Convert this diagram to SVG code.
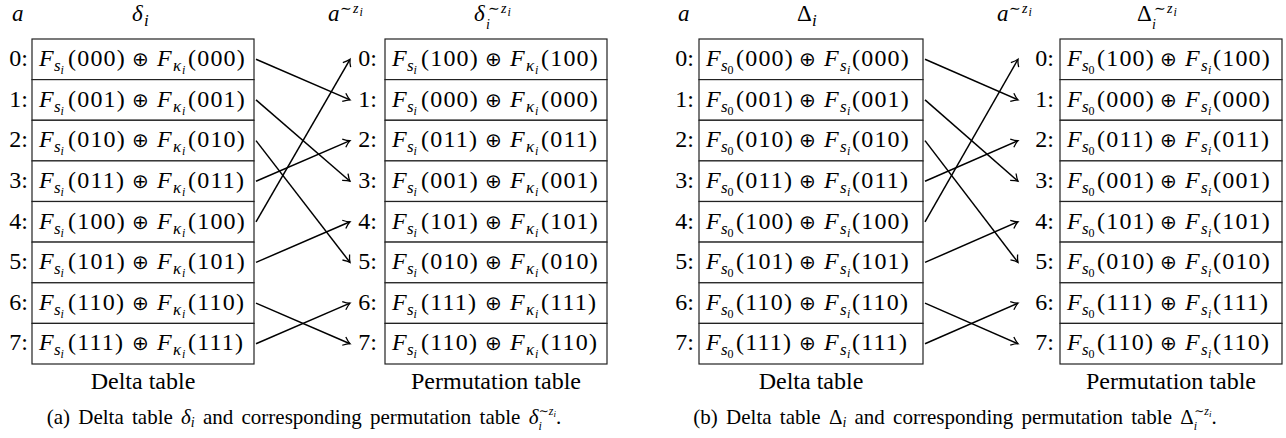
<svg xmlns="http://www.w3.org/2000/svg" width="1286" height="438" viewBox="0 0 1286 438">
<style>
text{font-family:"Liberation Serif","Times New Roman","DejaVu Serif",serif;fill:#000}
.it{font-style:italic}
.c{font-size:24px}
.sb{font-size:17px}
.ss{font-size:12px}
.sp{font-size:14px}
.op{font-family:"DejaVu Sans",sans-serif;font-size:20px}
.ls{letter-spacing:1.2px}
.lab{font-size:24px;text-anchor:end}
.hd{font-size:23px}
.ft{font-size:24px;text-anchor:middle}
.cap{font-size:21px;text-anchor:middle;word-spacing:3px}
.row{fill:#fff;stroke:#222;stroke-width:1.2}
.arr{stroke:#000;stroke-width:1.5;fill:none;marker-end:url(#ah)}
</style>
<defs>
<marker id="ah" markerUnits="userSpaceOnUse" markerWidth="10" markerHeight="12" viewBox="-8 -6 10 12" refX="0" refY="0" orient="auto">
<path d="M-6.5,-4.5 Q-2.5,-1 0,0 Q-2.5,1 -6.5,4.5" fill="none" stroke="#000" stroke-width="1.3"/>
</marker>
</defs>

<!-- Headers -->
<g id="headers">
<text class="hd it" x="12" y="21">a</text>
<text class="hd" x="132" y="21"><tspan class="it">δ</tspan><tspan class="it sb" x="144" y="26">i</tspan></text>
<text class="hd" x="328" y="21"><tspan class="it">a</tspan><tspan class="sp" x="340" y="13">∼</tspan><tspan class="it sp" x="353" y="13">z</tspan><tspan class="it ss" x="359.5" y="16">i</tspan></text>
<text class="hd" x="474" y="21"><tspan class="it">δ</tspan><tspan class="it sp" x="486" y="29">i</tspan><tspan class="sp" x="488" y="13">∼</tspan><tspan class="it sp" x="501" y="13">z</tspan><tspan class="it ss" x="507.5" y="16">i</tspan></text>
<text class="hd it" x="678" y="21">a</text>
<text class="hd" x="797" y="21"><tspan>Δ</tspan><tspan class="it sb" x="812" y="26">i</tspan></text>
<text class="hd" x="997" y="21"><tspan class="it">a</tspan><tspan class="sp" x="1009" y="13">∼</tspan><tspan class="it sp" x="1022" y="13">z</tspan><tspan class="it ss" x="1028.5" y="16">i</tspan></text>
<text class="hd" x="1137" y="21"><tspan>Δ</tspan><tspan class="it sp" x="1152" y="29">i</tspan><tspan class="sp" x="1154" y="13">∼</tspan><tspan class="it sp" x="1167" y="13">z</tspan><tspan class="it ss" x="1173.5" y="16">i</tspan></text>
</g>

<!-- (a) Delta table -->
<g id="a-delta">
<rect class="row" x="32" y="39" width="222" height="40.6"/>
<rect class="row" x="32" y="79.6" width="222" height="40.6"/>
<rect class="row" x="32" y="120.3" width="222" height="40.6"/>
<rect class="row" x="32" y="160.9" width="222" height="40.6"/>
<rect class="row" x="32" y="201.5" width="222" height="40.6"/>
<rect class="row" x="32" y="242.1" width="222" height="40.6"/>
<rect class="row" x="32" y="282.8" width="222" height="40.6"/>
<rect class="row" x="32" y="323.4" width="222" height="40.6"/>
<text class="lab" x="28" y="66">0:</text>
<text class="lab" x="28" y="106.6">1:</text>
<text class="lab" x="28" y="147.3">2:</text>
<text class="lab" x="28" y="187.9">3:</text>
<text class="lab" x="28" y="228.5">4:</text>
<text class="lab" x="28" y="269.1">5:</text>
<text class="lab" x="28" y="309.8">6:</text>
<text class="lab" x="28" y="350.4">7:</text>
<text class="c" x="39" y="66"><tspan class="it">F</tspan><tspan class="it sb" x="54" y="71">s</tspan><tspan class="it ss" x="60.5" y="74">i</tspan><tspan class="ls" x="68" y="66">(000)</tspan><tspan class="op" x="132">⊕</tspan><tspan class="it" x="157">F</tspan><tspan class="it sb" x="173" y="71">κ</tspan><tspan class="it ss" x="182" y="74">i</tspan><tspan class="ls" x="188" y="66">(000)</tspan></text>
<text class="c" x="39" y="106.6"><tspan class="it">F</tspan><tspan class="it sb" x="54" y="111.6">s</tspan><tspan class="it ss" x="60.5" y="114.6">i</tspan><tspan class="ls" x="68" y="106.6">(001)</tspan><tspan class="op" x="132">⊕</tspan><tspan class="it" x="157">F</tspan><tspan class="it sb" x="173" y="111.6">κ</tspan><tspan class="it ss" x="182" y="114.6">i</tspan><tspan class="ls" x="188" y="106.6">(001)</tspan></text>
<text class="c" x="39" y="147.3"><tspan class="it">F</tspan><tspan class="it sb" x="54" y="152.3">s</tspan><tspan class="it ss" x="60.5" y="155.3">i</tspan><tspan class="ls" x="68" y="147.3">(010)</tspan><tspan class="op" x="132">⊕</tspan><tspan class="it" x="157">F</tspan><tspan class="it sb" x="173" y="152.3">κ</tspan><tspan class="it ss" x="182" y="155.3">i</tspan><tspan class="ls" x="188" y="147.3">(010)</tspan></text>
<text class="c" x="39" y="187.9"><tspan class="it">F</tspan><tspan class="it sb" x="54" y="192.9">s</tspan><tspan class="it ss" x="60.5" y="195.9">i</tspan><tspan class="ls" x="68" y="187.9">(011)</tspan><tspan class="op" x="132">⊕</tspan><tspan class="it" x="157">F</tspan><tspan class="it sb" x="173" y="192.9">κ</tspan><tspan class="it ss" x="182" y="195.9">i</tspan><tspan class="ls" x="188" y="187.9">(011)</tspan></text>
<text class="c" x="39" y="228.5"><tspan class="it">F</tspan><tspan class="it sb" x="54" y="233.5">s</tspan><tspan class="it ss" x="60.5" y="236.5">i</tspan><tspan class="ls" x="68" y="228.5">(100)</tspan><tspan class="op" x="132">⊕</tspan><tspan class="it" x="157">F</tspan><tspan class="it sb" x="173" y="233.5">κ</tspan><tspan class="it ss" x="182" y="236.5">i</tspan><tspan class="ls" x="188" y="228.5">(100)</tspan></text>
<text class="c" x="39" y="269.1"><tspan class="it">F</tspan><tspan class="it sb" x="54" y="274.1">s</tspan><tspan class="it ss" x="60.5" y="277.1">i</tspan><tspan class="ls" x="68" y="269.1">(101)</tspan><tspan class="op" x="132">⊕</tspan><tspan class="it" x="157">F</tspan><tspan class="it sb" x="173" y="274.1">κ</tspan><tspan class="it ss" x="182" y="277.1">i</tspan><tspan class="ls" x="188" y="269.1">(101)</tspan></text>
<text class="c" x="39" y="309.8"><tspan class="it">F</tspan><tspan class="it sb" x="54" y="314.8">s</tspan><tspan class="it ss" x="60.5" y="317.8">i</tspan><tspan class="ls" x="68" y="309.8">(110)</tspan><tspan class="op" x="132">⊕</tspan><tspan class="it" x="157">F</tspan><tspan class="it sb" x="173" y="314.8">κ</tspan><tspan class="it ss" x="182" y="317.8">i</tspan><tspan class="ls" x="188" y="309.8">(110)</tspan></text>
<text class="c" x="39" y="350.4"><tspan class="it">F</tspan><tspan class="it sb" x="54" y="355.4">s</tspan><tspan class="it ss" x="60.5" y="358.4">i</tspan><tspan class="ls" x="68" y="350.4">(111)</tspan><tspan class="op" x="132">⊕</tspan><tspan class="it" x="157">F</tspan><tspan class="it sb" x="173" y="355.4">κ</tspan><tspan class="it ss" x="182" y="358.4">i</tspan><tspan class="ls" x="188" y="350.4">(111)</tspan></text>
<text class="ft" x="143" y="389">Delta table</text>
</g>

<!-- (a) Permutation table -->
<g id="a-perm">
<rect class="row" x="385" y="39" width="222" height="40.6"/>
<rect class="row" x="385" y="79.6" width="222" height="40.6"/>
<rect class="row" x="385" y="120.3" width="222" height="40.6"/>
<rect class="row" x="385" y="160.9" width="222" height="40.6"/>
<rect class="row" x="385" y="201.5" width="222" height="40.6"/>
<rect class="row" x="385" y="242.1" width="222" height="40.6"/>
<rect class="row" x="385" y="282.8" width="222" height="40.6"/>
<rect class="row" x="385" y="323.4" width="222" height="40.6"/>
<text class="lab" x="377" y="66">0:</text>
<text class="lab" x="377" y="106.6">1:</text>
<text class="lab" x="377" y="147.3">2:</text>
<text class="lab" x="377" y="187.9">3:</text>
<text class="lab" x="377" y="228.5">4:</text>
<text class="lab" x="377" y="269.1">5:</text>
<text class="lab" x="377" y="309.8">6:</text>
<text class="lab" x="377" y="350.4">7:</text>
<text class="c" x="392" y="66"><tspan class="it">F</tspan><tspan class="it sb" x="407" y="71">s</tspan><tspan class="it ss" x="413.5" y="74">i</tspan><tspan class="ls" x="421" y="66">(100)</tspan><tspan class="op" x="485">⊕</tspan><tspan class="it" x="510">F</tspan><tspan class="it sb" x="526" y="71">κ</tspan><tspan class="it ss" x="535" y="74">i</tspan><tspan class="ls" x="541" y="66">(100)</tspan></text>
<text class="c" x="392" y="106.6"><tspan class="it">F</tspan><tspan class="it sb" x="407" y="111.6">s</tspan><tspan class="it ss" x="413.5" y="114.6">i</tspan><tspan class="ls" x="421" y="106.6">(000)</tspan><tspan class="op" x="485">⊕</tspan><tspan class="it" x="510">F</tspan><tspan class="it sb" x="526" y="111.6">κ</tspan><tspan class="it ss" x="535" y="114.6">i</tspan><tspan class="ls" x="541" y="106.6">(000)</tspan></text>
<text class="c" x="392" y="147.3"><tspan class="it">F</tspan><tspan class="it sb" x="407" y="152.3">s</tspan><tspan class="it ss" x="413.5" y="155.3">i</tspan><tspan class="ls" x="421" y="147.3">(011)</tspan><tspan class="op" x="485">⊕</tspan><tspan class="it" x="510">F</tspan><tspan class="it sb" x="526" y="152.3">κ</tspan><tspan class="it ss" x="535" y="155.3">i</tspan><tspan class="ls" x="541" y="147.3">(011)</tspan></text>
<text class="c" x="392" y="187.9"><tspan class="it">F</tspan><tspan class="it sb" x="407" y="192.9">s</tspan><tspan class="it ss" x="413.5" y="195.9">i</tspan><tspan class="ls" x="421" y="187.9">(001)</tspan><tspan class="op" x="485">⊕</tspan><tspan class="it" x="510">F</tspan><tspan class="it sb" x="526" y="192.9">κ</tspan><tspan class="it ss" x="535" y="195.9">i</tspan><tspan class="ls" x="541" y="187.9">(001)</tspan></text>
<text class="c" x="392" y="228.5"><tspan class="it">F</tspan><tspan class="it sb" x="407" y="233.5">s</tspan><tspan class="it ss" x="413.5" y="236.5">i</tspan><tspan class="ls" x="421" y="228.5">(101)</tspan><tspan class="op" x="485">⊕</tspan><tspan class="it" x="510">F</tspan><tspan class="it sb" x="526" y="233.5">κ</tspan><tspan class="it ss" x="535" y="236.5">i</tspan><tspan class="ls" x="541" y="228.5">(101)</tspan></text>
<text class="c" x="392" y="269.1"><tspan class="it">F</tspan><tspan class="it sb" x="407" y="274.1">s</tspan><tspan class="it ss" x="413.5" y="277.1">i</tspan><tspan class="ls" x="421" y="269.1">(010)</tspan><tspan class="op" x="485">⊕</tspan><tspan class="it" x="510">F</tspan><tspan class="it sb" x="526" y="274.1">κ</tspan><tspan class="it ss" x="535" y="277.1">i</tspan><tspan class="ls" x="541" y="269.1">(010)</tspan></text>
<text class="c" x="392" y="309.8"><tspan class="it">F</tspan><tspan class="it sb" x="407" y="314.8">s</tspan><tspan class="it ss" x="413.5" y="317.8">i</tspan><tspan class="ls" x="421" y="309.8">(111)</tspan><tspan class="op" x="485">⊕</tspan><tspan class="it" x="510">F</tspan><tspan class="it sb" x="526" y="314.8">κ</tspan><tspan class="it ss" x="535" y="317.8">i</tspan><tspan class="ls" x="541" y="309.8">(111)</tspan></text>
<text class="c" x="392" y="350.4"><tspan class="it">F</tspan><tspan class="it sb" x="407" y="355.4">s</tspan><tspan class="it ss" x="413.5" y="358.4">i</tspan><tspan class="ls" x="421" y="350.4">(110)</tspan><tspan class="op" x="485">⊕</tspan><tspan class="it" x="510">F</tspan><tspan class="it sb" x="526" y="355.4">κ</tspan><tspan class="it ss" x="535" y="358.4">i</tspan><tspan class="ls" x="541" y="350.4">(110)</tspan></text>
<text class="ft" x="496" y="389">Permutation table</text>
</g>

<!-- (b) Delta table -->
<g id="b-delta">
<rect class="row" x="699" y="39" width="224" height="40.6"/>
<rect class="row" x="699" y="79.6" width="224" height="40.6"/>
<rect class="row" x="699" y="120.3" width="224" height="40.6"/>
<rect class="row" x="699" y="160.9" width="224" height="40.6"/>
<rect class="row" x="699" y="201.5" width="224" height="40.6"/>
<rect class="row" x="699" y="242.1" width="224" height="40.6"/>
<rect class="row" x="699" y="282.8" width="224" height="40.6"/>
<rect class="row" x="699" y="323.4" width="224" height="40.6"/>
<text class="lab" x="694" y="66">0:</text>
<text class="lab" x="694" y="106.6">1:</text>
<text class="lab" x="694" y="147.3">2:</text>
<text class="lab" x="694" y="187.9">3:</text>
<text class="lab" x="694" y="228.5">4:</text>
<text class="lab" x="694" y="269.1">5:</text>
<text class="lab" x="694" y="309.8">6:</text>
<text class="lab" x="694" y="350.4">7:</text>
<text class="c" x="706" y="66"><tspan class="it">F</tspan><tspan class="it sb" x="721" y="71">s</tspan><tspan class="ss" x="727.5" y="74">0</tspan><tspan class="ls" x="736" y="66">(000)</tspan><tspan class="op" x="799">⊕</tspan><tspan class="it" x="824">F</tspan><tspan class="it sb" x="840" y="71">s</tspan><tspan class="it ss" x="847" y="74">i</tspan><tspan class="ls" x="852" y="66">(000)</tspan></text>
<text class="c" x="706" y="106.6"><tspan class="it">F</tspan><tspan class="it sb" x="721" y="111.6">s</tspan><tspan class="ss" x="727.5" y="114.6">0</tspan><tspan class="ls" x="736" y="106.6">(001)</tspan><tspan class="op" x="799">⊕</tspan><tspan class="it" x="824">F</tspan><tspan class="it sb" x="840" y="111.6">s</tspan><tspan class="it ss" x="847" y="114.6">i</tspan><tspan class="ls" x="852" y="106.6">(001)</tspan></text>
<text class="c" x="706" y="147.3"><tspan class="it">F</tspan><tspan class="it sb" x="721" y="152.3">s</tspan><tspan class="ss" x="727.5" y="155.3">0</tspan><tspan class="ls" x="736" y="147.3">(010)</tspan><tspan class="op" x="799">⊕</tspan><tspan class="it" x="824">F</tspan><tspan class="it sb" x="840" y="152.3">s</tspan><tspan class="it ss" x="847" y="155.3">i</tspan><tspan class="ls" x="852" y="147.3">(010)</tspan></text>
<text class="c" x="706" y="187.9"><tspan class="it">F</tspan><tspan class="it sb" x="721" y="192.9">s</tspan><tspan class="ss" x="727.5" y="195.9">0</tspan><tspan class="ls" x="736" y="187.9">(011)</tspan><tspan class="op" x="799">⊕</tspan><tspan class="it" x="824">F</tspan><tspan class="it sb" x="840" y="192.9">s</tspan><tspan class="it ss" x="847" y="195.9">i</tspan><tspan class="ls" x="852" y="187.9">(011)</tspan></text>
<text class="c" x="706" y="228.5"><tspan class="it">F</tspan><tspan class="it sb" x="721" y="233.5">s</tspan><tspan class="ss" x="727.5" y="236.5">0</tspan><tspan class="ls" x="736" y="228.5">(100)</tspan><tspan class="op" x="799">⊕</tspan><tspan class="it" x="824">F</tspan><tspan class="it sb" x="840" y="233.5">s</tspan><tspan class="it ss" x="847" y="236.5">i</tspan><tspan class="ls" x="852" y="228.5">(100)</tspan></text>
<text class="c" x="706" y="269.1"><tspan class="it">F</tspan><tspan class="it sb" x="721" y="274.1">s</tspan><tspan class="ss" x="727.5" y="277.1">0</tspan><tspan class="ls" x="736" y="269.1">(101)</tspan><tspan class="op" x="799">⊕</tspan><tspan class="it" x="824">F</tspan><tspan class="it sb" x="840" y="274.1">s</tspan><tspan class="it ss" x="847" y="277.1">i</tspan><tspan class="ls" x="852" y="269.1">(101)</tspan></text>
<text class="c" x="706" y="309.8"><tspan class="it">F</tspan><tspan class="it sb" x="721" y="314.8">s</tspan><tspan class="ss" x="727.5" y="317.8">0</tspan><tspan class="ls" x="736" y="309.8">(110)</tspan><tspan class="op" x="799">⊕</tspan><tspan class="it" x="824">F</tspan><tspan class="it sb" x="840" y="314.8">s</tspan><tspan class="it ss" x="847" y="317.8">i</tspan><tspan class="ls" x="852" y="309.8">(110)</tspan></text>
<text class="c" x="706" y="350.4"><tspan class="it">F</tspan><tspan class="it sb" x="721" y="355.4">s</tspan><tspan class="ss" x="727.5" y="358.4">0</tspan><tspan class="ls" x="736" y="350.4">(111)</tspan><tspan class="op" x="799">⊕</tspan><tspan class="it" x="824">F</tspan><tspan class="it sb" x="840" y="355.4">s</tspan><tspan class="it ss" x="847" y="358.4">i</tspan><tspan class="ls" x="852" y="350.4">(111)</tspan></text>
<text class="ft" x="811" y="389">Delta table</text>
</g>

<!-- (b) Permutation table -->
<g id="b-perm">
<rect class="row" x="1060" y="39" width="222" height="40.6"/>
<rect class="row" x="1060" y="79.6" width="222" height="40.6"/>
<rect class="row" x="1060" y="120.3" width="222" height="40.6"/>
<rect class="row" x="1060" y="160.9" width="222" height="40.6"/>
<rect class="row" x="1060" y="201.5" width="222" height="40.6"/>
<rect class="row" x="1060" y="242.1" width="222" height="40.6"/>
<rect class="row" x="1060" y="282.8" width="222" height="40.6"/>
<rect class="row" x="1060" y="323.4" width="222" height="40.6"/>
<text class="lab" x="1054" y="66">0:</text>
<text class="lab" x="1054" y="106.6">1:</text>
<text class="lab" x="1054" y="147.3">2:</text>
<text class="lab" x="1054" y="187.9">3:</text>
<text class="lab" x="1054" y="228.5">4:</text>
<text class="lab" x="1054" y="269.1">5:</text>
<text class="lab" x="1054" y="309.8">6:</text>
<text class="lab" x="1054" y="350.4">7:</text>
<text class="c" x="1067" y="66"><tspan class="it">F</tspan><tspan class="it sb" x="1082" y="71">s</tspan><tspan class="ss" x="1088.5" y="74">0</tspan><tspan class="ls" x="1097" y="66">(100)</tspan><tspan class="op" x="1160">⊕</tspan><tspan class="it" x="1185">F</tspan><tspan class="it sb" x="1201" y="71">s</tspan><tspan class="it ss" x="1208" y="74">i</tspan><tspan class="ls" x="1213" y="66">(100)</tspan></text>
<text class="c" x="1067" y="106.6"><tspan class="it">F</tspan><tspan class="it sb" x="1082" y="111.6">s</tspan><tspan class="ss" x="1088.5" y="114.6">0</tspan><tspan class="ls" x="1097" y="106.6">(000)</tspan><tspan class="op" x="1160">⊕</tspan><tspan class="it" x="1185">F</tspan><tspan class="it sb" x="1201" y="111.6">s</tspan><tspan class="it ss" x="1208" y="114.6">i</tspan><tspan class="ls" x="1213" y="106.6">(000)</tspan></text>
<text class="c" x="1067" y="147.3"><tspan class="it">F</tspan><tspan class="it sb" x="1082" y="152.3">s</tspan><tspan class="ss" x="1088.5" y="155.3">0</tspan><tspan class="ls" x="1097" y="147.3">(011)</tspan><tspan class="op" x="1160">⊕</tspan><tspan class="it" x="1185">F</tspan><tspan class="it sb" x="1201" y="152.3">s</tspan><tspan class="it ss" x="1208" y="155.3">i</tspan><tspan class="ls" x="1213" y="147.3">(011)</tspan></text>
<text class="c" x="1067" y="187.9"><tspan class="it">F</tspan><tspan class="it sb" x="1082" y="192.9">s</tspan><tspan class="ss" x="1088.5" y="195.9">0</tspan><tspan class="ls" x="1097" y="187.9">(001)</tspan><tspan class="op" x="1160">⊕</tspan><tspan class="it" x="1185">F</tspan><tspan class="it sb" x="1201" y="192.9">s</tspan><tspan class="it ss" x="1208" y="195.9">i</tspan><tspan class="ls" x="1213" y="187.9">(001)</tspan></text>
<text class="c" x="1067" y="228.5"><tspan class="it">F</tspan><tspan class="it sb" x="1082" y="233.5">s</tspan><tspan class="ss" x="1088.5" y="236.5">0</tspan><tspan class="ls" x="1097" y="228.5">(101)</tspan><tspan class="op" x="1160">⊕</tspan><tspan class="it" x="1185">F</tspan><tspan class="it sb" x="1201" y="233.5">s</tspan><tspan class="it ss" x="1208" y="236.5">i</tspan><tspan class="ls" x="1213" y="228.5">(101)</tspan></text>
<text class="c" x="1067" y="269.1"><tspan class="it">F</tspan><tspan class="it sb" x="1082" y="274.1">s</tspan><tspan class="ss" x="1088.5" y="277.1">0</tspan><tspan class="ls" x="1097" y="269.1">(010)</tspan><tspan class="op" x="1160">⊕</tspan><tspan class="it" x="1185">F</tspan><tspan class="it sb" x="1201" y="274.1">s</tspan><tspan class="it ss" x="1208" y="277.1">i</tspan><tspan class="ls" x="1213" y="269.1">(010)</tspan></text>
<text class="c" x="1067" y="309.8"><tspan class="it">F</tspan><tspan class="it sb" x="1082" y="314.8">s</tspan><tspan class="ss" x="1088.5" y="317.8">0</tspan><tspan class="ls" x="1097" y="309.8">(111)</tspan><tspan class="op" x="1160">⊕</tspan><tspan class="it" x="1185">F</tspan><tspan class="it sb" x="1201" y="314.8">s</tspan><tspan class="it ss" x="1208" y="317.8">i</tspan><tspan class="ls" x="1213" y="309.8">(111)</tspan></text>
<text class="c" x="1067" y="350.4"><tspan class="it">F</tspan><tspan class="it sb" x="1082" y="355.4">s</tspan><tspan class="ss" x="1088.5" y="358.4">0</tspan><tspan class="ls" x="1097" y="350.4">(110)</tspan><tspan class="op" x="1160">⊕</tspan><tspan class="it" x="1185">F</tspan><tspan class="it sb" x="1201" y="355.4">s</tspan><tspan class="it ss" x="1208" y="358.4">i</tspan><tspan class="ls" x="1213" y="350.4">(110)</tspan></text>
<text class="ft" x="1171" y="389">Permutation table</text>
</g>

<!-- Connectors -->
<g id="connectors">
<line class="arr" x1="256" y1="59.3" x2="350" y2="99.9"/>
<line class="arr" x1="256" y1="99.9" x2="350" y2="181.2"/>
<line class="arr" x1="256" y1="140.6" x2="350" y2="262.4"/>
<line class="arr" x1="256" y1="181.2" x2="350" y2="140.6"/>
<line class="arr" x1="256" y1="221.8" x2="350" y2="59.3"/>
<line class="arr" x1="256" y1="262.4" x2="350" y2="221.8"/>
<line class="arr" x1="256" y1="303.1" x2="350" y2="343.7"/>
<line class="arr" x1="256" y1="343.7" x2="350" y2="303.1"/>
<line class="arr" x1="925" y1="59.3" x2="1018" y2="99.9"/>
<line class="arr" x1="925" y1="99.9" x2="1018" y2="181.2"/>
<line class="arr" x1="925" y1="140.6" x2="1018" y2="262.4"/>
<line class="arr" x1="925" y1="181.2" x2="1018" y2="140.6"/>
<line class="arr" x1="925" y1="221.8" x2="1018" y2="59.3"/>
<line class="arr" x1="925" y1="262.4" x2="1018" y2="221.8"/>
<line class="arr" x1="925" y1="303.1" x2="1018" y2="343.7"/>
<line class="arr" x1="925" y1="343.7" x2="1018" y2="303.1"/>
</g>

<!-- Captions -->
<g id="captions">
<text class="cap" x="304" y="424">(a) Delta table <tspan class="it">δ</tspan><tspan class="it" font-size="14" dy="3">i</tspan><tspan dy="-3"> and corresponding permutation table </tspan><tspan class="it">δ</tspan><tspan class="it" font-size="12" dy="6">i</tspan><tspan font-size="12" dx="-3" dy="-15">∼</tspan><tspan class="it" font-size="12">z</tspan><tspan class="it" font-size="9" dy="2">i</tspan><tspan dy="7">.</tspan></text>
<text class="cap" x="955" y="424">(b) Delta table <tspan>Δ</tspan><tspan class="it" font-size="14" dy="3">i</tspan><tspan dy="-3"> and corresponding permutation table </tspan><tspan>Δ</tspan><tspan class="it" font-size="12" dy="6">i</tspan><tspan font-size="12" dx="-3" dy="-15">∼</tspan><tspan class="it" font-size="12">z</tspan><tspan class="it" font-size="9" dy="2">i</tspan><tspan dy="7">.</tspan></text>
</g>
</svg>
